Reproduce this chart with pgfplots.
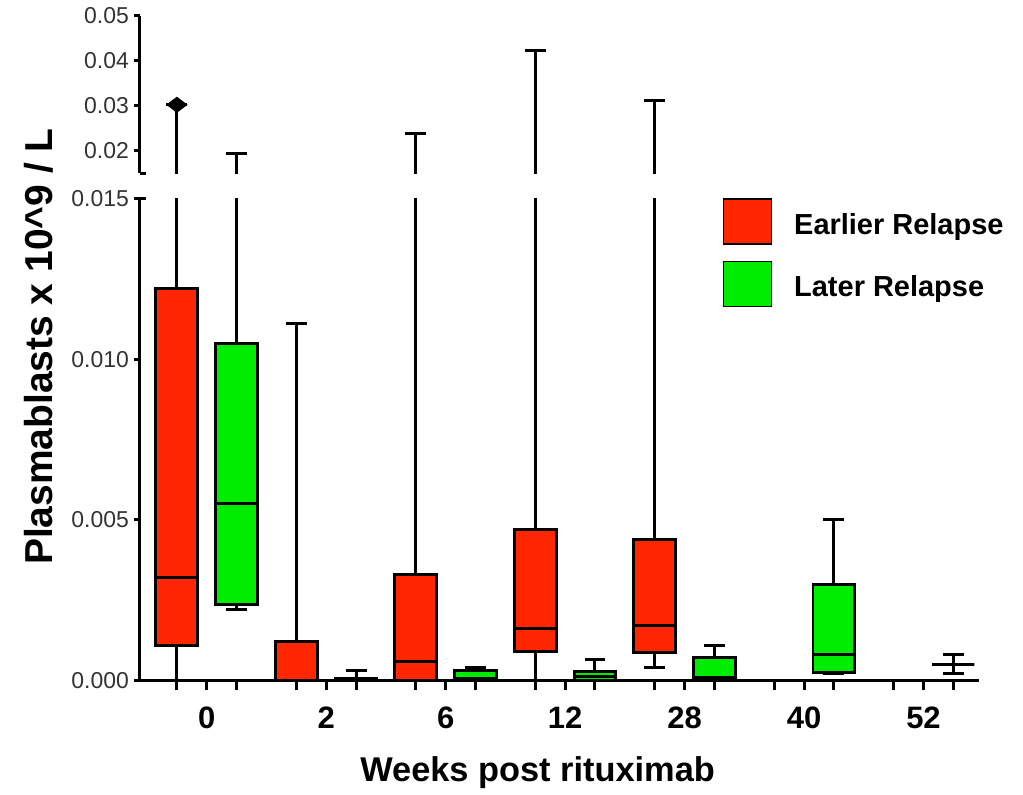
\documentclass[border=0pt]{standalone}
\usepackage{fontspec}
\setmainfont{Liberation Sans}
\usepackage{pgfplots}
\pgfplotsset{compat=1.18}
\usepgfplotslibrary{statistics}
\definecolor{redc}{RGB}{255,38,0}
\definecolor{greenc}{RGB}{0,236,0}
% values in units of 0.001 x 10^9/L
\newcommand{\bx}[7]{\addplot[boxplot prepared={draw position=#2, lower whisker=#3, lower quartile=#4, median=#5, upper quartile=#6, upper whisker=#7, box extend=0.7, whisker extend=0.35}, draw=black, fill=#1, line width=1.5pt, forget plot] coordinates {};}
\pgfplotsset{
  common/.style={
    scale only axis, width=420pt, xmin=-0.62, xmax=13.43,
    boxplot/draw direction=y,
    axis on top,
    axis line style={line width=1.5pt},
    every tick/.style={line width=1.5pt, black},
    scaled y ticks=false,
    tick align=outside,
    ytick style={/pgfplots/major tick length=3pt},
    xtick style={/pgfplots/major tick length=5pt},
    yticklabel style={font=\fontsize{11.5}{13}\selectfont, text=black!80, inner sep=1pt},
  },
}
\begin{document}
\begin{tikzpicture}
\begin{axis}[common, name=lower, height=241pt, ymin=0, ymax=15,
  axis x line*=bottom, axis y line*=left,
  ytick={0,5,10,15},
  yticklabels={0.000,0.005,0.010,0.015},
  extra y ticks={15}, extra y tick labels={},
  extra y tick style={tick align=inside, /pgfplots/major tick length=6.5pt},
  xtick={0,...,13}, xticklabels={},
  extra x ticks={0.5,2.5,4.5,6.5,8.5,10.5,12.5},
  extra x tick labels={0,2,6,12,28,40,52},
  extra x tick style={/pgfplots/major tick length=0pt, tick label style={font=\bfseries\fontsize{15.5}{17}\selectfont, yshift=-10pt}},
  xlabel={Weeks post rituximab},
  xlabel style={font=\bfseries\fontsize{17.2}{19}\selectfont, at={(axis description cs:0.474,0)}, anchor=base, yshift=-50.5pt},
  ylabel={Plasmablasts x 10\textasciicircum 9 / L},
  ylabel style={font=\bfseries\fontsize{19.5}{22}\selectfont, at={(axis description cs:-0.1208,0.693)}, anchor=center},
  legend image code/.code={\draw[#1, line width=0.8pt] (0pt,-9.5pt) rectangle (24pt,13pt);},
  legend style={at={(axis description cs:0.694,1.002)}, anchor=north west, draw=none, fill=none, inner sep=0pt, row sep=8pt, column sep=9pt, font=\bfseries\fontsize{14.5}{17}\selectfont},
  legend cell align=left,
]
\bx{redc}{0}{0}{1.1}{3.2}{12.2}{30.2}
\bx{greenc}{1}{2.2}{2.37}{5.5}{10.5}{19.3}
\bx{redc}{2}{0}{0}{0}{1.2}{11.1}
\bx{greenc}{3}{0}{0}{0.02}{0.05}{0.3}
\bx{redc}{4}{0}{0}{0.6}{3.3}{23.7}
\bx{greenc}{5}{0}{0}{0.05}{0.3}{0.4}
\bx{redc}{6}{0}{0.9}{1.6}{4.7}{42.2}
\bx{greenc}{7}{0}{0}{0.12}{0.26}{0.65}
\bx{redc}{8}{0.4}{0.86}{1.7}{4.4}{31.1}
\bx{greenc}{9}{0}{0.08}{0.1}{0.7}{1.1}
\bx{greenc}{11}{0.22}{0.25}{0.8}{3.0}{5.0}
\bx{greenc}{13}{0.2}{0.5}{0.5}{0.5}{0.8}
\addlegendimage{draw=black, fill=redc}
\addlegendentry{Earlier Relapse}
\addlegendimage{draw=black, fill=greenc}
\addlegendentry{Later Relapse}
\end{axis}
\begin{axis}[common, at={(0pt,253.85pt)}, anchor=south west, height=78.8pt, ymin=15, ymax=50,
  hide x axis, axis y line*=left,
  ytick={20,30,40,50},
  yticklabels={0.02,0.03,0.04,0.05},
  extra y ticks={15}, extra y tick labels={},
  extra y tick style={tick align=inside, /pgfplots/major tick length=6.5pt},
]
\bx{redc}{0}{0}{1.1}{3.2}{12.2}{30.2}
\bx{greenc}{1}{2.2}{2.37}{5.5}{10.5}{19.3}
\bx{redc}{4}{0}{0}{0.6}{3.3}{23.7}
\bx{redc}{6}{0}{0.9}{1.6}{4.7}{42.2}
\bx{redc}{8}{0.4}{0.86}{1.7}{4.4}{31.1}
\addplot[only marks, mark=diamond*, mark size=5pt, mark options={rotate=90, fill=black, draw=black}, forget plot] coordinates {(0,30.2)};
\end{axis}
\pgfresetboundingbox
\path ([shift={(-70pt,-57pt)}]lower.south west) rectangle ([shift={(22pt,99.5pt)}]lower.north east);
\end{tikzpicture}
\end{document}
